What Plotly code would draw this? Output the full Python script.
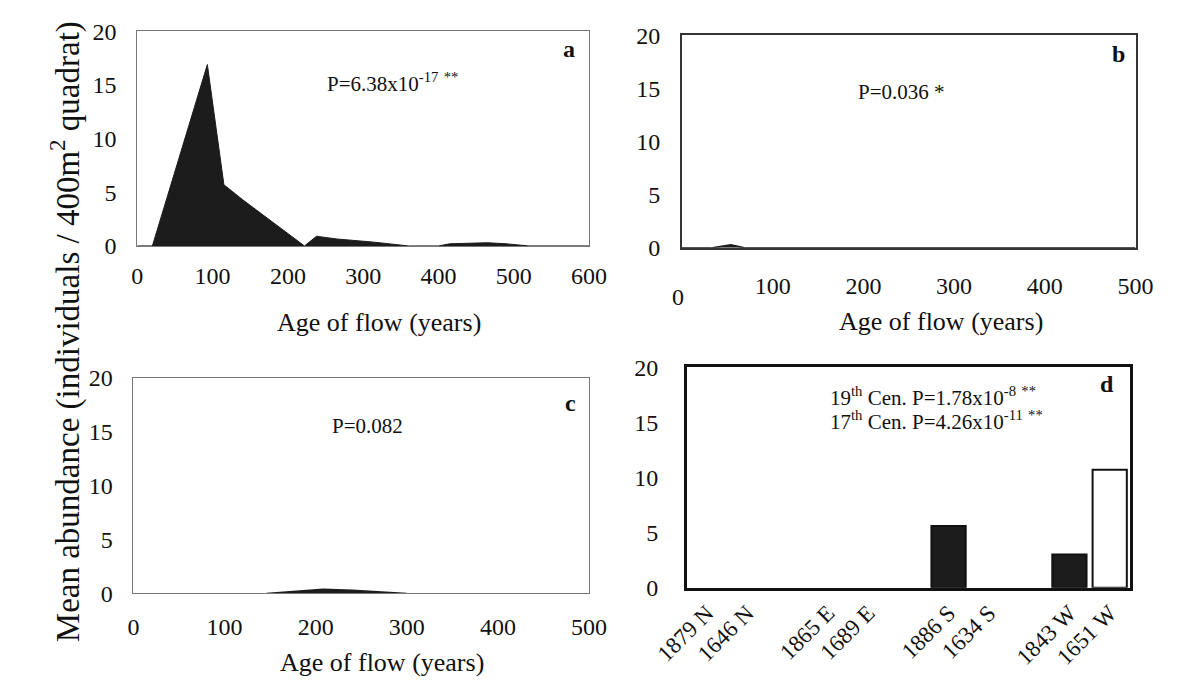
import plotly.graph_objects as go

# ---------------- data ----------------
a_age = [0, 20, 93, 115, 140, 222, 238, 265, 315, 360, 400, 415, 465, 490, 520, 600]
a_abund = [0, 0, 16.9, 5.7, 4.3, 0, 0.9, 0.65, 0.35, 0, 0, 0.2, 0.3, 0.2, 0, 0]

b_age = [0, 32, 54, 70, 500]
b_abund = [0, 0, 0.3, 0, 0]

c_age = [146, 175, 208, 240, 270, 300]
c_abund = [0, 0.2, 0.4, 0.3, 0.15, 0]

d_labels = ["1879 N", "1646 N", "1865 E", "1689 E", "1886 S", "1634 S", "1843 W", "1651 W"]
d_values = [0, 0, 0, 0, 5.6, 0, 3.0, 10.7]
d_century = ["19th", "17th", "19th", "17th", "19th", "17th", "19th", "17th"]

a_ticks = [0, 100, 200, 300, 400, 500, 600]
bc_ticks = [0, 100, 200, 300, 400, 500]
y_ticks = [0, 5, 10, 15, 20]

# ---------------- layout helpers ----------------
W, H = 1189, 695
FONT = "Liberation Serif"


def px(x):
    return x / W


def py(y):
    return 1 - y / H


# slot positions for panel d: a blank slot after each site pair
d_pos = [i + i // 2 for i in range(len(d_labels))]

fig = go.Figure()

FILL = "#1c1c1c"
fig.add_trace(go.Scatter(x=a_age, y=a_abund, mode="lines", fill="tozeroy",
                         fillcolor=FILL, line=dict(color=FILL, width=1),
                         xaxis="x", yaxis="y", showlegend=False))
fig.add_trace(go.Scatter(x=b_age, y=b_abund, mode="lines", fill="tozeroy",
                         fillcolor=FILL, line=dict(color=FILL, width=1.5),
                         xaxis="x2", yaxis="y2", showlegend=False))
fig.add_trace(go.Scatter(x=c_age, y=c_abund, mode="lines", fill="tozeroy",
                         fillcolor=FILL, line=dict(color=FILL, width=1.5),
                         xaxis="x3", yaxis="y3", showlegend=False))

bar_colors = ["#1c1c1c" if c == "19th" else "white" for c in d_century]
bar_lw = [2 if v > 0 else 0 for v in d_values]
fig.add_trace(go.Bar(x=d_pos, y=d_values, width=0.85,
                     marker=dict(color=bar_colors, line=dict(color="#111", width=bar_lw)),
                     xaxis="x4", yaxis="y4", showlegend=False))

TICK = 24
tickfont = dict(family=FONT, size=TICK, color="#111")


def xax(domain, anchor, rng, tickvals, linecolor, lw, standoff):
    return dict(domain=domain, anchor=anchor, range=rng, tickvals=tickvals,
                showline=True, mirror=True, linecolor=linecolor, linewidth=lw,
                showgrid=False, zeroline=False, ticks="", tickfont=tickfont,
                ticklabelstandoff=standoff)


def yax(domain, anchor, linecolor, lw, standoff=15):
    return dict(domain=domain, anchor=anchor, range=[0, 20], tickvals=y_ticks,
                showline=True, mirror=True, linecolor=linecolor, linewidth=lw,
                showgrid=False, zeroline=False, ticks="", tickfont=tickfont,
                ticklabelstandoff=standoff)


fig.update_layout(
    width=W, height=H, margin=dict(l=0, r=0, t=0, b=0),
    paper_bgcolor="white", plot_bgcolor="white",
    font=dict(family=FONT, color="#111"),
    xaxis=xax([px(109), px(581)], "y", [0, 600], a_ticks, "#777", 1, 8),
    yaxis=yax([py(242), py(19)], "x", "#777", 1),
    xaxis2=xax([px(678), px(1152)], "y2", [0, 500], bc_ticks[1:], "#333", 1.5, 16),
    yaxis2=yax([py(244), py(23)], "x2", "#333", 1.5),
    xaxis3=xax([px(105), px(581)], "y3", [0, 500], bc_ticks, "#777", 1, 12),
    yaxis3=yax([py(603), py(379)], "x3", "#777", 1),
    xaxis4=dict(domain=[px(683), px(1146)], anchor="y4", range=[-0.5, 10.5],
                tickvals=d_pos, ticktext=d_labels, tickangle=-45,
                showline=True, mirror=True, linecolor="#111", linewidth=2.5,
                showgrid=False, zeroline=False, ticks="",
                tickfont=dict(family=FONT, size=23, color="#111")),
    yaxis4=yax([py(597), py(368)], "x4", "#111", 2.5, 21),
    bargap=0.15,
)

ann = []


def txt(x, y, s, size=21, bold=False, xanchor="center", angle=0):
    ann.append(dict(x=px(x), y=py(y), xref="paper", yref="paper", text=(f"<b>{s}</b>" if bold else s),
                    showarrow=False, xanchor=xanchor, yanchor="middle", textangle=angle,
                    font=dict(family=FONT, size=size, color="#111")))


txt(376, 72, "P=6.38x10<sup>-17</sup> <sup>**</sup>")
txt(560, 37, "a", size=24, bold=True)
txt(907, 82, "P=0.036 *")
txt(1134, 43, "b", size=24, bold=True)
txt(350, 429, "P=0.082")
txt(562, 405, "c", size=24, bold=True)
txt(831, 398, "19<sup>th</sup> Cen. P=1.78x10<sup>-8</sup> <sup>**</sup>", xanchor="left")
txt(831, 423, "17<sup>th</sup> Cen. P=4.26x10<sup>-11</sup> <sup>**</sup>", xanchor="left")
txt(1122, 385, "d", size=24, bold=True)

# axis titles
txt(361, 322, "Age of flow (years)", size=26)
txt(949, 320, "Age of flow (years)", size=26)
txt(365, 675, "Age of flow (years)", size=26)
txt(34, 331, "Mean abundance (individuals / 400m<sup>2</sup> quadrat)", size=33, angle=-90)
# panel b: the zero tick label sits lower than the others
txt(674, 295, "0", size=TICK)

fig.update_layout(annotations=ann)

fig.write_html("out.html")
